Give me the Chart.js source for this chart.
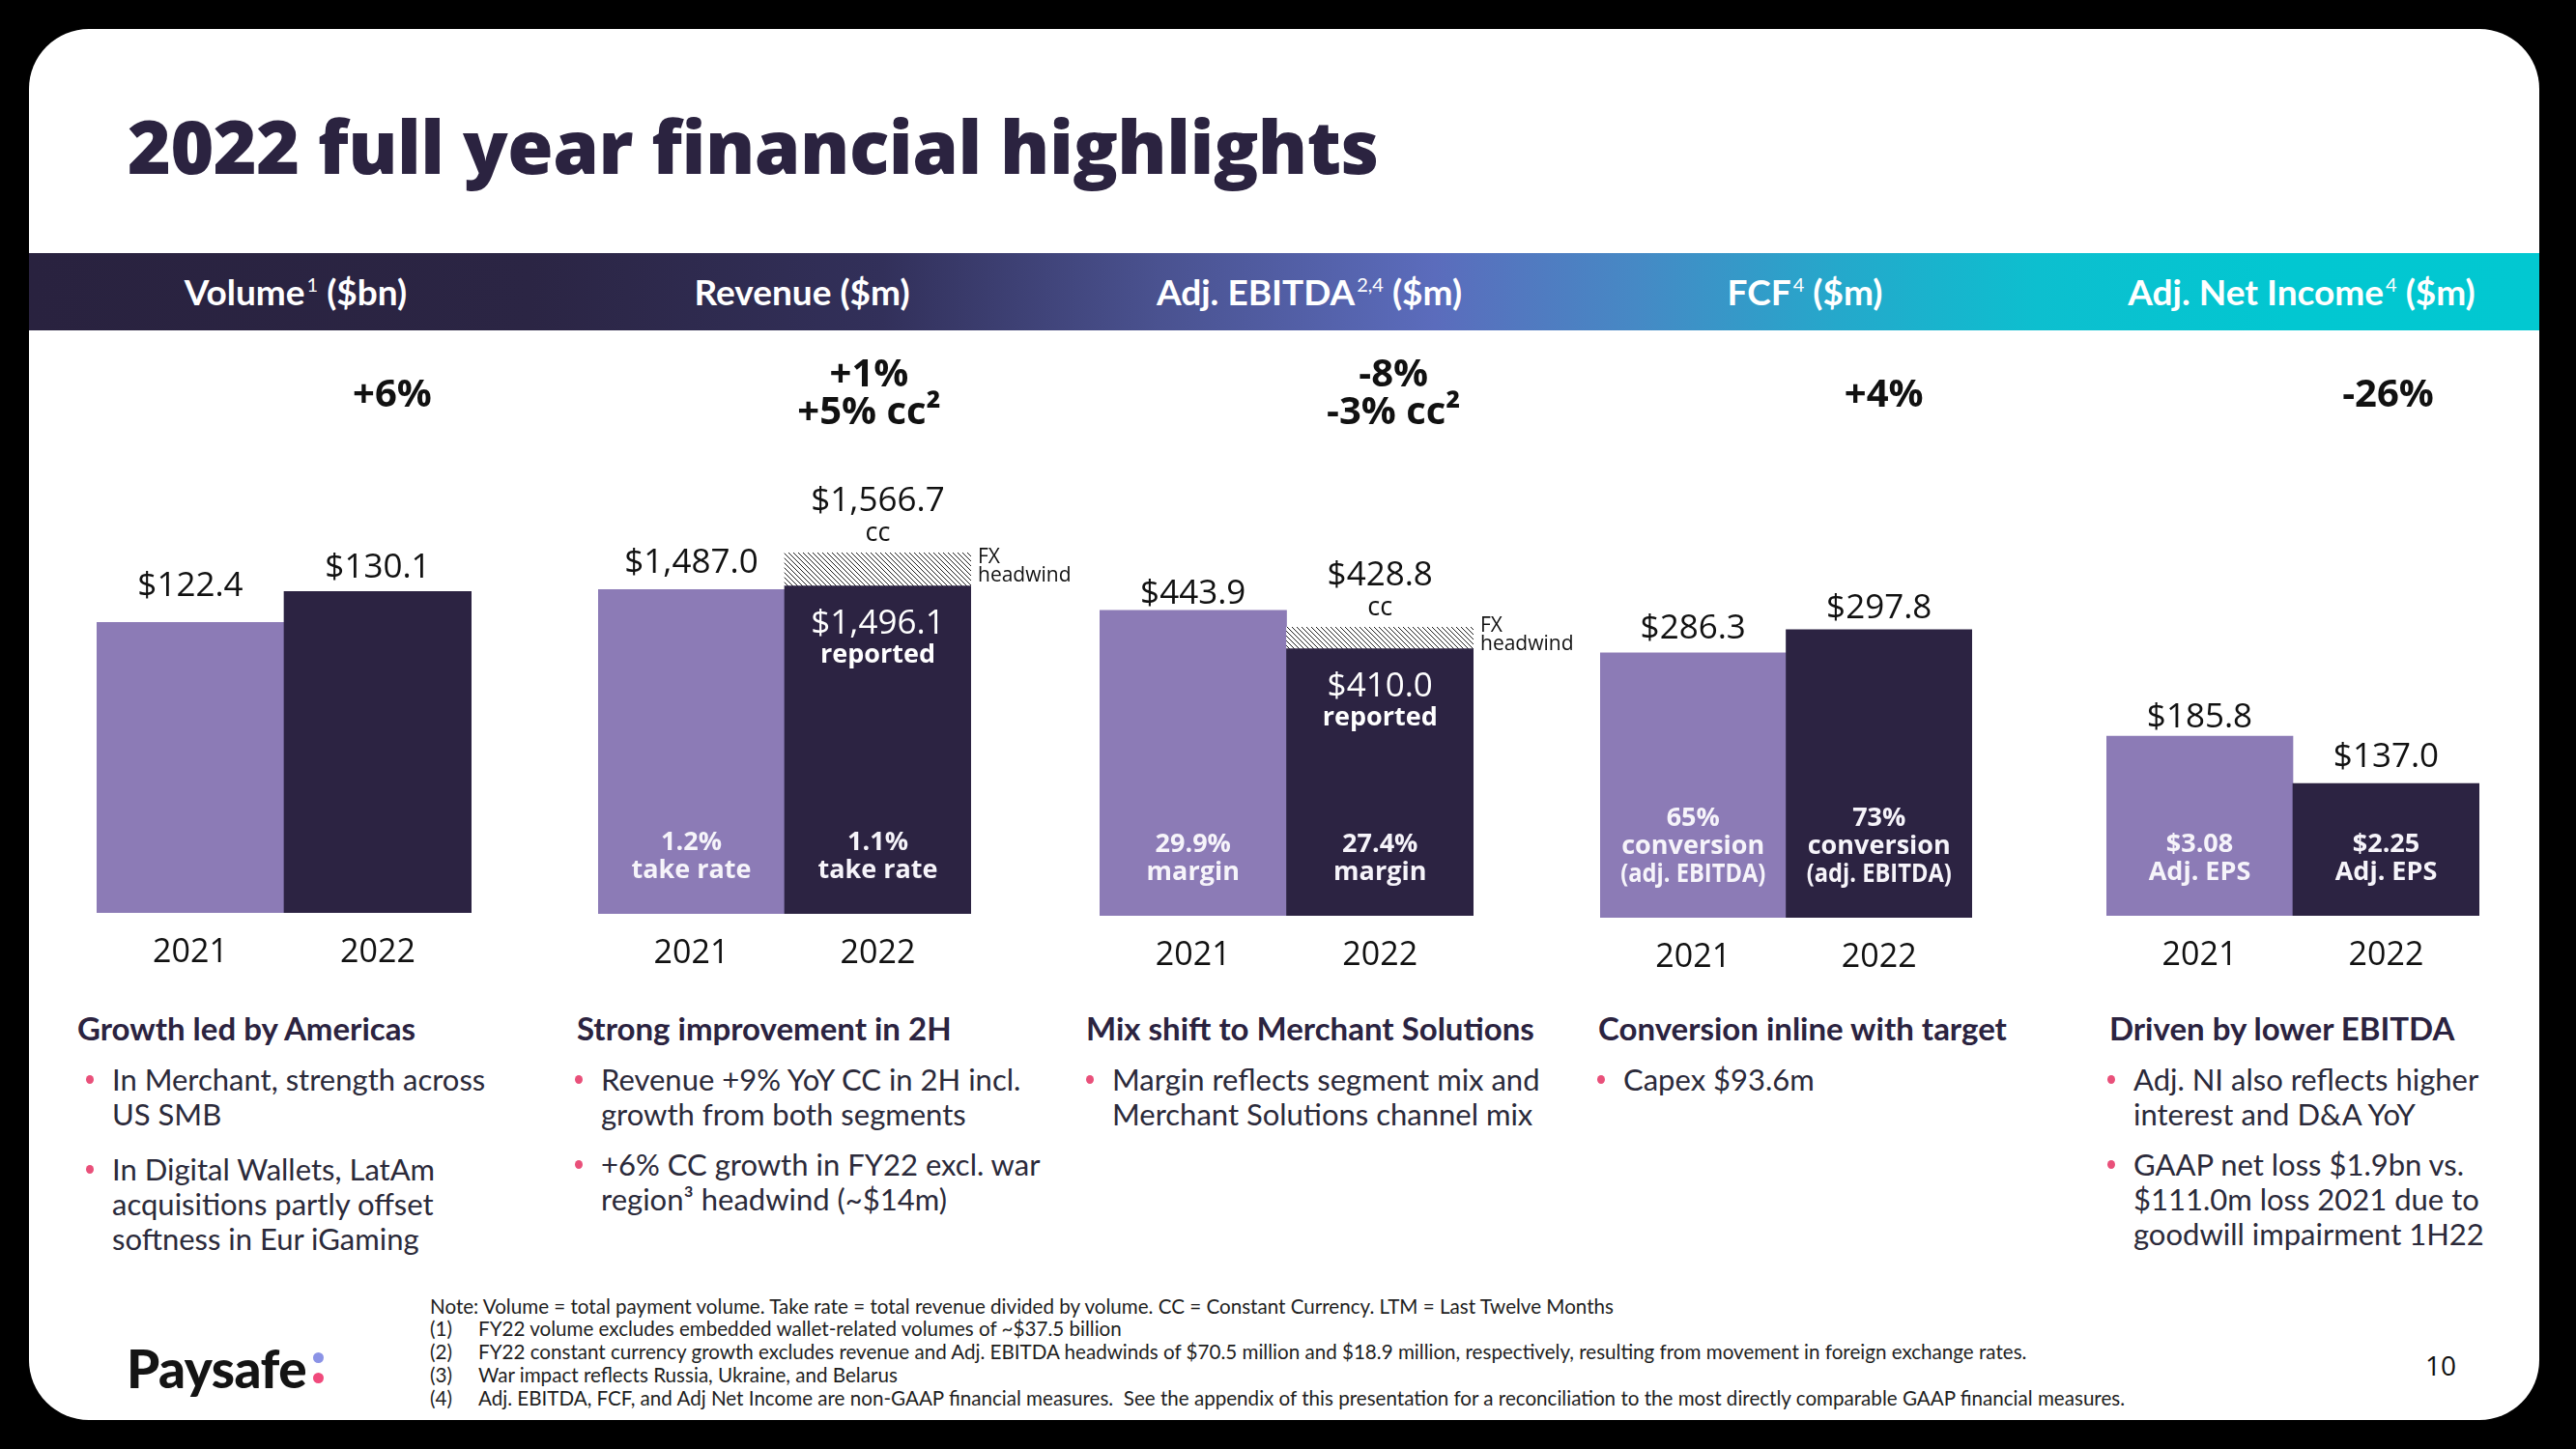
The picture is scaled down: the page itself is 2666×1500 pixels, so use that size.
<!DOCTYPE html>
<html>
<head>
<meta charset="utf-8">
<script src="https://cdn.jsdelivr.net/npm/chart.js@4.4.0/dist/chart.umd.min.js"></script>
<style>
  html, body { margin:0; padding:0; background:#000; }
  body { width:2666px; height:1500px; position:relative; overflow:hidden; font-family:Lato, "Open Sans", sans-serif; }
  #slide { position:absolute; left:30px; top:30px; width:2598px; height:1440px; background:#fff; border-radius:62px; }
  .abs { position:absolute; white-space:nowrap; }
  #title { left:132px; top:100px; font-size:66px; line-height:100px; font-weight:800; color:#2b2340; font-family:"Open Sans"; letter-spacing:-0.5px; }
  #band { position:absolute; left:30px; top:262px; width:2598px; height:80px;
    background:linear-gradient(90deg,#29223f 0%,#2b2544 20%,#32305a 34%,#4a5290 45%,#5b6cbc 56%,#4689c5 64%,#25a8cb 72%,#0dbfcf 80%,#02c7d1 90%,#02c8d1 100%); }
  .hdr { position:absolute; top:262px; height:80px; line-height:80px; width:700px; text-align:center; color:#fff; font-weight:700; font-size:37px; }
  .hdr sup { font-size:20px; font-weight:400; vertical-align:0; position:relative; top:-14px; margin-left:2px; }
  canvas.panel { position:absolute; top:360px; }
  .sub { position:absolute; top:1044px; line-height:40px; font-size:33px; font-weight:700; color:#2b2340; white-space:nowrap; }
  .bul { position:absolute; font-size:31px; line-height:36px; color:#2b2a3a; white-space:nowrap; }
  .bul::before { content:""; position:absolute; left:-27px; top:14px; width:8px; height:9px; border-radius:50%; background:#e9507a; }
  .note { position:absolute; left:445px; font-size:20.6px; line-height:24px; color:#1e1e1e; white-space:nowrap; }
  .note span.n { display:inline-block; width:50px; }
  #logo { left:131px; top:1384px; font-size:54px; line-height:64px; font-weight:900; color:#141414; letter-spacing:-0.5px; }
  .dot { position:absolute; width:11px; height:11px; border-radius:50%; }
  #page { left:2510px; top:1396px; font-size:28px; line-height:34px; color:#111; font-family:"Open Sans"; }
</style>
</head>
<body>
<div id="slide"></div>
<div id="title" class="abs">2022 full year financial highlights</div>
<div id="band"></div>
<div class="hdr" style="left:-44px">Volume<sup>1</sup> ($bn)</div>
<div class="hdr" style="left:480px">Revenue ($m)</div>
<div class="hdr" style="left:1005px">Adj. EBITDA<sup>2,4</sup> ($m)</div>
<div class="hdr" style="left:1518px">FCF<sup>4</sup> ($m)</div>
<div class="hdr" style="left:2032px">Adj. Net Income<sup>4</sup> ($m)</div>

<canvas id="c1" class="panel"></canvas>
<canvas id="c2" class="panel"></canvas>
<canvas id="c3" class="panel"></canvas>
<canvas id="c4" class="panel"></canvas>
<canvas id="c5" class="panel"></canvas>

<div class="sub" style="left:80px">Growth led by Americas</div>
<div class="bul" style="left:116px;top:1099px">In Merchant, strength across<br>US SMB</div>
<div class="bul" style="left:116px;top:1192px">In Digital Wallets, LatAm<br>acquisitions partly offset<br>softness in Eur iGaming</div>

<div class="sub" style="left:597px">Strong improvement in 2H</div>
<div class="bul" style="left:622px;top:1099px">Revenue +9% YoY CC in 2H incl.<br>growth from both segments</div>
<div class="bul" style="left:622px;top:1187px">+6% CC growth in FY22 excl. war<br>region³ headwind (~$14m)</div>

<div class="sub" style="left:1124px">Mix shift to Merchant Solutions</div>
<div class="bul" style="left:1151px;top:1099px">Margin reflects segment mix and<br>Merchant Solutions channel mix</div>

<div class="sub" style="left:1654px">Conversion inline with target</div>
<div class="bul" style="left:1680px;top:1099px">Capex $93.6m</div>

<div class="sub" style="left:2183px">Driven by lower EBITDA</div>
<div class="bul" style="left:2208px;top:1099px">Adj. NI also reflects higher<br>interest and D&amp;A YoY</div>
<div class="bul" style="left:2208px;top:1187px">GAAP net loss $1.9bn vs.<br>$111.0m loss 2021 due to<br>goodwill impairment 1H22</div>

<div class="note" style="top:1340px">Note: Volume = total payment volume. Take rate = total revenue divided by volume. CC = Constant Currency. LTM = Last Twelve Months</div>
<div class="note" style="top:1363px"><span class="n">(1)</span>FY22 volume excludes embedded wallet-related volumes of ~$37.5 billion</div>
<div class="note" style="top:1387px"><span class="n">(2)</span>FY22 constant currency growth excludes revenue and Adj. EBITDA headwinds of $70.5 million and $18.9 million, respectively, resulting from movement in foreign exchange rates.</div>
<div class="note" style="top:1411px"><span class="n">(3)</span>War impact reflects Russia, Ukraine, and Belarus</div>
<div class="note" style="top:1435px"><span class="n">(4)</span>Adj. EBITDA, FCF, and Adj Net Income are non-GAAP financial measures.&nbsp; See the appendix of this presentation for a reconciliation to the most directly comparable GAAP financial measures.</div>

<div id="logo" class="abs">Paysafe</div>
<div class="dot" style="left:324px;top:1400px;background:#8b93e6"></div>
<div class="dot" style="left:324px;top:1421px;background:#f04a7c"></div>
<div id="page" class="abs">10</div>

<script>
// ---------- DATA ----------
const years = ['2021', '2022'];
const volumeValues = [122.4, 130.1];
const revenueValues = [1487.0, 1496.1];
const revenueCC = [null, 1566.7];
const ebitdaValues = [443.9, 410.0];
const ebitdaCC = [null, 428.8];
const fcfValues = [286.3, 297.8];
const netIncomeValues = [185.8, 137.0];

const volumeGrowth = ['+6%'];
const revenueGrowth = ['+1%', '+5% cc²'];
const ebitdaGrowth = ['-8%', '-3% cc²'];
const fcfGrowth = ['+4%'];
const netIncomeGrowth = ['-26%'];

const revenueNotes = [['1.2%', 'take rate'], ['1.1%', 'take rate']];
const ebitdaNotes = [['29.9%', 'margin'], ['27.4%', 'margin']];
const fcfNotes = [['65%', 'conversion', '(adj. EBITDA)'], ['73%', 'conversion', '(adj. EBITDA)']];
const netIncomeNotes = [['$3.08', 'Adj. EPS'], ['$2.25', 'Adj. EPS']];

// ---------- STYLE / LAYOUT ----------
const barColors = ['#8c7bb6', '#2c2342'];
const CANVAS_TOP = 360, CANVAS_H = 660, AREA_TOP = 380, PAD_L = 90, PAD_R = 140;

const panels = [
  { id:'c1', values:volumeValues, cc:null, growth:volumeGrowth, notes:null, left:100, right:488, bottom:945, min:50, max:186, gdx:15, ldy:[-10, 3] },
  { id:'c2', values:revenueValues, cc:revenueCC, growth:revenueGrowth, notes:revenueNotes, left:619, right:1005, bottom:946, min:783, max:1970, gdx:-9, ldy:[0, 0] },
  { id:'c3', values:ebitdaValues, cc:ebitdaCC, growth:ebitdaGrowth, notes:ebitdaNotes, left:1138, right:1525, bottom:948, min:169, max:663, gdx:14, ldy:[10, 0] },
  { id:'c4', values:fcfValues, cc:null, growth:fcfGrowth, notes:fcfNotes, left:1656, right:2041, bottom:950, min:155, max:428, gdx:5, ldy:[2, 5] },
  { id:'c5', values:netIncomeValues, cc:null, growth:netIncomeGrowth, notes:netIncomeNotes, left:2180, right:2566, bottom:948, min:0, max:568, gdx:2, ldy:[8, 0] }
];

const fmt = v => '$' + v.toLocaleString('en-US', { minimumFractionDigits:1, maximumFractionDigits:1 });

// fit the title and logo to the reference widths
(function fitText() {
  const t = document.getElementById('title');
  const w = t.getBoundingClientRect().width;
  const fs = parseFloat(getComputedStyle(t).fontSize);
  t.style.fontSize = (fs * 1292 / w) + 'px';
  const l = document.getElementById('logo');
  const lw = l.getBoundingClientRect().width;
  const lfs = parseFloat(getComputedStyle(l).fontSize);
  l.style.fontSize = (lfs * 186 / lw) + 'px';
})();

function makeHatch(ctx) {
  const c = document.createElement('canvas');
  c.width = 5; c.height = 5;
  const g = c.getContext('2d');
  g.fillStyle = '#ffffff'; g.fillRect(0, 0, 5, 5);
  g.strokeStyle = '#1a1a1a'; g.lineWidth = 1;
  g.beginPath();
  g.moveTo(0, 0); g.lineTo(5, 5);
  g.moveTo(-3, 2); g.lineTo(3, 8);
  g.moveTo(2, -3); g.lineTo(8, 3);
  g.stroke();
  return ctx.createPattern(c, 'repeat');
}

const labelPlugin = {
  id: 'slideLabels',
  afterDatasetsDraw(chart, args, opts) {
    const p = opts.panel;
    const ctx = chart.ctx;
    const meta = chart.getDatasetMeta(0);
    const hmeta = chart.getDatasetMeta(1);
    const area = chart.chartArea;
    ctx.save();
    ctx.textAlign = 'center';
    ctx.textBaseline = 'middle';
    meta.data.forEach((bar, i) => {
      const cc = p.cc ? p.cc[i] : null;
      if (cc != null) {
        const h = hmeta.data[i];
        ctx.fillStyle = '#111';
        ctx.font = '35px "Open Sans"';
        ctx.fillText(fmt(cc), bar.x, h.y - 53);
        ctx.font = '27px "Open Sans"';
        ctx.fillText('cc', bar.x, h.y - 20);
        ctx.fillStyle = '#ffffff';
        ctx.font = '35px "Open Sans"';
        ctx.fillText(fmt(p.values[i]), bar.x, bar.y + 40);
        ctx.font = 'bold 27px "Open Sans"';
        ctx.fillText('reported', bar.x, bar.y + 72);
        ctx.textAlign = 'left';
        ctx.fillStyle = '#111';
        ctx.font = '21px "Open Sans"';
        const mid = (h.y + h.base) / 2;
        ctx.fillText('FX', bar.x + bar.width / 2 + 7, mid - 12);
        ctx.fillText('headwind', bar.x + bar.width / 2 + 7, mid + 7);
        ctx.textAlign = 'center';
      } else {
        ctx.fillStyle = '#111';
        ctx.font = '35px "Open Sans"';
        ctx.fillText(fmt(p.values[i]), bar.x, bar.y - 27 + p.ldy[i]);
      }
      const notes = p.notes ? p.notes[i] : null;
      if (notes) {
        ctx.fillStyle = '#f6f4fa';
        ctx.font = 'bold 27px "Open Sans"';
        notes.forEach((t, j) => ctx.fillText(t, bar.x, area.bottom - 45 - (notes.length - 1 - j) * 29, bar.width * 0.78));
      }
    });
    const b2 = meta.data[1];
    ctx.fillStyle = '#111';
    ctx.font = 'bold 40px "Open Sans"';
    if (p.growth.length === 1) {
      ctx.fillText(p.growth[0], b2.x + p.gdx, area.top + 30);
    } else {
      ctx.fillText(p.growth[0], b2.x + p.gdx, area.top + 9);
      ctx.fillText(p.growth[1], b2.x + p.gdx, area.top + 48);
    }
    ctx.restore();
  }
};

panels.forEach(p => {
  const cv = document.getElementById(p.id);
  const w = (p.right - p.left) + PAD_L + PAD_R;
  cv.width = w; cv.height = CANVAS_H;
  cv.style.left = (p.left - PAD_L) + 'px';
  cv.style.width = w + 'px'; cv.style.height = CANVAS_H + 'px';
  const ctx = cv.getContext('2d');
  const axisH = (CANVAS_TOP + CANVAS_H) - p.bottom;
  const datasets = [
    { data: p.values, backgroundColor: barColors, borderWidth: 0, barPercentage: 1, categoryPercentage: 1, grouped: false, order: 2 },
    { data: p.values.map((v, i) => (p.cc && p.cc[i] != null) ? [v, p.cc[i]] : null),
      backgroundColor: makeHatch(ctx), borderWidth: 0, barPercentage: 1, categoryPercentage: 1, grouped: false, order: 1 }
  ];
  new Chart(ctx, {
    type: 'bar',
    data: { labels: years, datasets },
    options: {
      responsive: false, animation: false, devicePixelRatio: 1,
      layout: { padding: { left: PAD_L, right: PAD_R, top: AREA_TOP - CANVAS_TOP, bottom: 0 } },
      plugins: { legend: { display: false }, tooltip: { enabled: false }, slideLabels: { panel: p } },
      scales: {
        x: {
          grid: { display: false, drawTicks: false }, border: { display: false },
          ticks: { color: '#111', font: { family: 'Open Sans', size: 34 }, padding: 21, maxRotation: 0 },
          afterFit: s => { s.height = axisH; }
        },
        y: { display: false, min: p.min, max: p.max }
      }
    },
    plugins: [labelPlugin]
  });
});
</script>
</body>
</html>
